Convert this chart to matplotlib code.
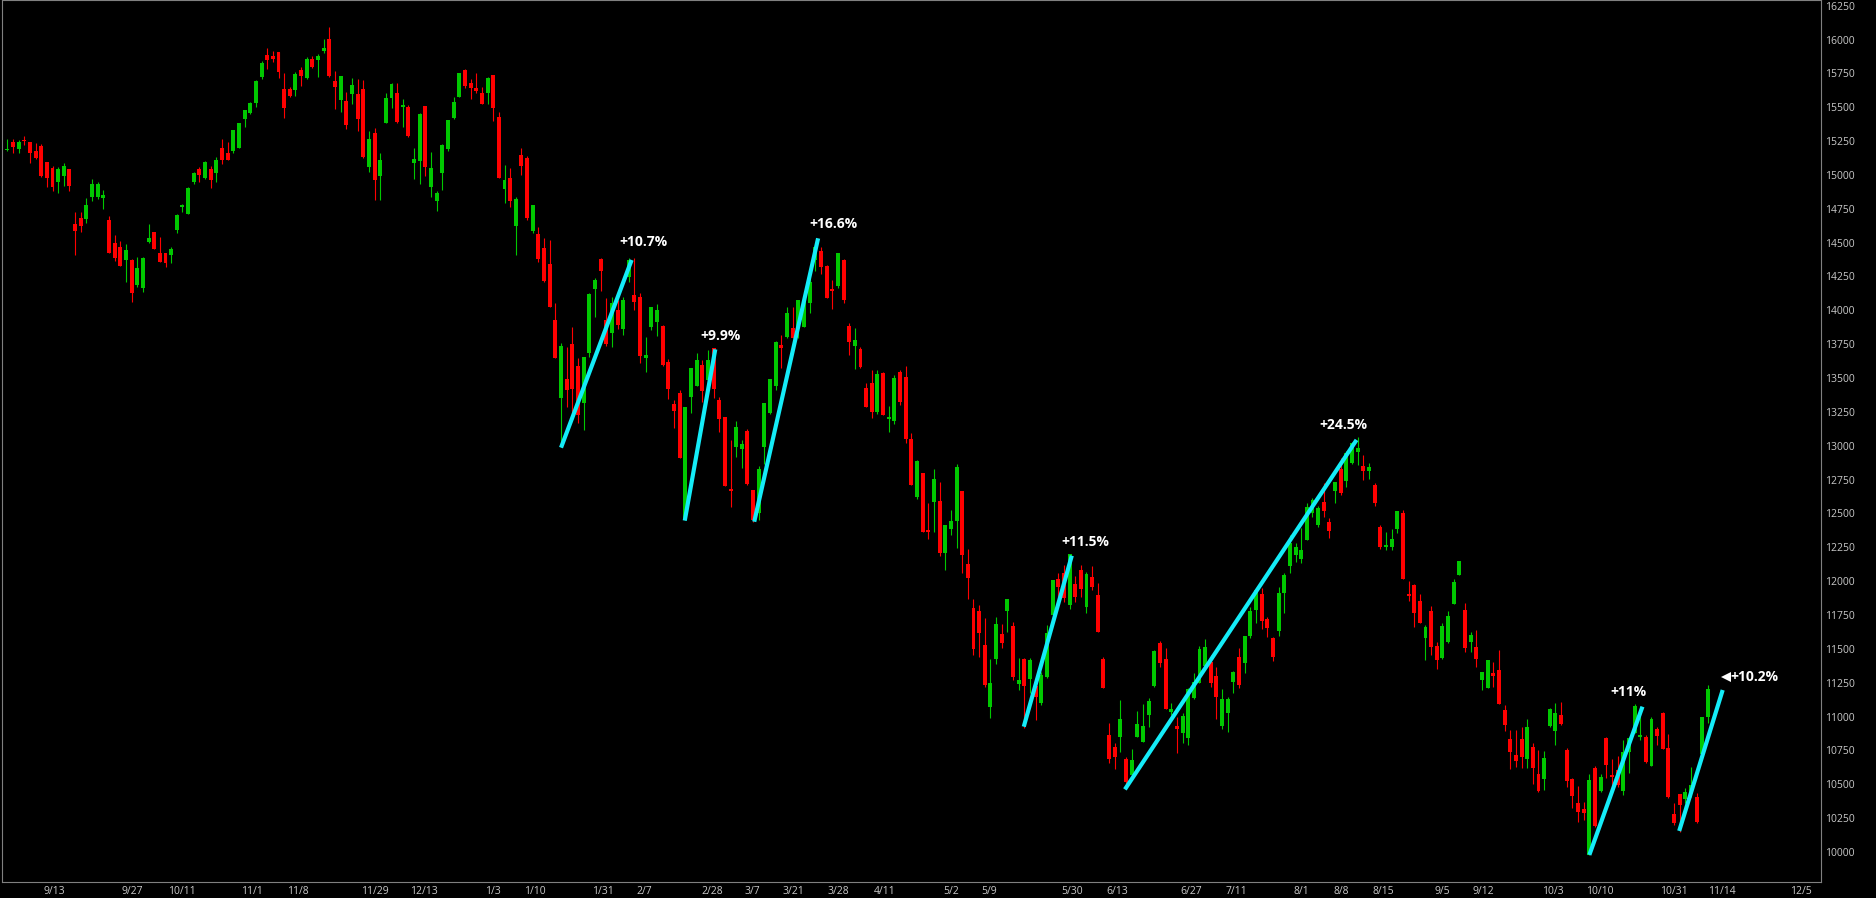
import matplotlib.pyplot as plt
from matplotlib.transforms import offset_copy
import numpy as np

# daily candles, Sep 2021 - Nov 2022 (index = trading day)
opens = [
    15185, 15244, 15192, 15258, 15244, 15177, 15214, 15099, 15054, 14951,
    14993, 15044, 14638, 14685, 14678, 14838, 14838, 14833, 14668, 14498,
    14469, 14375, 14373, 14188, 14168, 14508, 14579, 14422, 14422, 14409,
    14594, 14764, 14712, 14951, 15042, 14975, 15042, 15017, 15197, 15165,
    15177, 15199, 15413, 15457, 15533, 15723, 15886, 15878, 15908, 15634,
    15634, 15627, 15775, 15716, 15856, 15849, 15915, 16004, 15693, 15556,
    15546, 15600, 15598, 15634, 15058, 15307, 14994, 15383, 15568, 15605,
    15504, 15501, 15085, 15103, 15509, 14913, 14807, 15016, 15191, 15420,
    15578, 15775, 15682, 15645, 15608, 15608, 15738, 15426, 14896, 14977,
    14625, 15147, 15125, 14586, 14564, 14458, 14342, 13929, 13355, 13491,
    13749, 13589, 13313, 13687, 14155, 14377, 13929, 13835, 14003, 13860,
    14249, 14113, 14096, 13646, 13875, 13917, 13887, 13621, 13308, 13392,
    12452, 13362, 13441, 13596, 13486, 13719, 13338, 13210, 12678, 12993,
    12973, 13109, 12673, 12501, 12993, 13239, 13444, 13744, 13806, 13867,
    13880, 13880, 14052, 14372, 14441, 14328, 14155, 14180, 14372, 13884,
    13739, 13715, 13429, 13466, 13252, 13535, 13195, 13185, 13547, 13510,
    13050, 12624, 12801, 12378, 12587, 12592, 12210, 12388, 12447, 12666,
    12127, 11804, 11780, 11528, 11073, 11425, 11610, 11782, 11669, 11240,
    11423, 11275, 11226, 11103, 11290, 11750, 12014, 12058, 11824, 11979,
    12082, 11807, 12033, 11897, 11425, 10864, 10772, 10846, 10684, 10568,
    10851, 10814, 11011, 11225, 11540, 11425, 11036, 10930, 10881, 10839,
    11134, 11245, 11373, 11405, 11299, 10930, 11029, 11257, 11437, 11393,
    11595, 11787, 11905, 11718, 11577, 11634, 11915, 12112, 12195, 12161,
    12304, 12501, 12415, 12587, 12437, 12666, 12826, 12742, 12875, 12954,
    12851, 12816, 12710, 12398, 12255, 12250, 12383, 12506, 11900, 11972,
    11853, 11583, 11780, 11521, 11435, 11553, 11831, 12046, 11787, 11553,
    11511, 11270, 11213, 11319, 11344, 11048, 10834, 10716, 10834, 10687,
    10773, 10576, 10537, 10930, 10896, 11012, 10753, 10539, 10364, 10315,
    9978, 10618, 10451, 10839, 10569, 10605, 10451, 10741, 10876, 10852,
    10852, 10635, 10908, 11029, 10766, 10281, 10428, 10391, 10446, 10404,
    10724, 10994,
]
highs = [
    15263, 15263, 15258, 15288, 15244, 15234, 15227, 15099, 15067, 15057,
    15086, 15044, 14725, 14725, 14828, 14970, 14946, 14889, 14697, 14555,
    14513, 14489, 14380, 14395, 14395, 14636, 14579, 14545, 14427, 14471,
    14712, 14783, 14909, 15025, 15062, 15103, 15069, 15136, 15263, 15246,
    15332, 15383, 15479, 15536, 15698, 15844, 15935, 15918, 15910, 15750,
    15649, 15762, 15799, 15868, 15878, 15890, 16004, 16090, 15770, 15730,
    15610, 15713, 15706, 15698, 15322, 15349, 15159, 15603, 15676, 15676,
    15558, 15514, 15199, 15455, 15509, 15169, 14883, 15226, 15405, 15578,
    15755, 15780, 15706, 15751, 15647, 15726, 15738, 15467, 15076, 15049,
    14840, 15197, 15140, 14778, 14618, 14537, 14520, 14052, 13756, 13732,
    13879, 13646, 13658, 14126, 14236, 14384, 14089, 14101, 14077, 14101,
    14384, 14384, 14126, 13801, 14027, 14044, 13892, 13638, 13338, 13412,
    13284, 13572, 13687, 13633, 13707, 13719, 13362, 13215, 13042, 13183,
    13042, 13121, 12673, 12850, 13318, 13490, 13776, 13818, 14022, 14027,
    14076, 14076, 14236, 14470, 14470, 14335, 14224, 14421, 14377, 13909,
    13867, 13732, 13466, 13559, 13560, 13547, 13294, 13523, 13560, 13589,
    13092, 12895, 12801, 12580, 12826, 12735, 12415, 12526, 12865, 12666,
    12235, 11866, 11824, 11725, 11423, 11733, 11683, 11866, 11701, 11430,
    11430, 11430, 11245, 11332, 11676, 12009, 12063, 12119, 12200, 12038,
    12119, 12070, 12114, 11989, 11442, 10950, 10807, 11122, 10703, 10758,
    11041, 11092, 11134, 11491, 11560, 11508, 11102, 10999, 11024, 11208,
    11319, 11521, 11570, 11454, 11363, 11201, 11147, 11339, 11504, 11595,
    11807, 11947, 11947, 11733, 11590, 11959, 12058, 12341, 12279, 12390,
    12575, 12612, 12555, 12727, 12464, 12735, 12907, 12964, 13030, 13062,
    12932, 12875, 12727, 12415, 12366, 12383, 12518, 12526, 12004, 11979,
    11905, 11676, 11819, 11553, 11693, 11780, 12013, 12149, 11836, 11622,
    11639, 11331, 11418, 11405, 11492, 11085, 10901, 10901, 10921, 10980,
    10802, 10753, 10748, 11061, 11103, 11110, 10765, 10544, 10487, 10372,
    10576, 10635, 10576, 10847, 10684, 10709, 10827, 10852, 11093, 11061,
    10864, 10995, 10921, 11037, 10872, 10364, 10428, 10470, 10630, 10438,
    10994, 11233,
]
lows = [
    15180, 15165, 15165, 15224, 15086, 15121, 14988, 14909, 14885, 14865,
    14921, 14880, 14407, 14577, 14648, 14811, 14823, 14747, 14422, 14368,
    14324, 14206, 14060, 14176, 14139, 14496, 14454, 14360, 14321, 14353,
    14574, 14729, 14712, 14931, 14951, 14970, 14902, 14951, 15079, 15111,
    15165, 15199, 15351, 15447, 15499, 15706, 15780, 15836, 15713, 15423,
    15573, 15585, 15659, 15706, 15787, 15726, 15898, 15726, 15484, 15467,
    15337, 15521, 15327, 15127, 15024, 14812, 14812, 15383, 15497, 15386,
    15356, 15282, 14970, 14935, 14994, 14839, 14736, 14891, 15179, 15410,
    15578, 15640, 15559, 15603, 15524, 15522, 15398, 14975, 14795, 14763,
    14409, 15000, 14667, 14569, 14360, 14212, 14027, 13646, 12993, 13289,
    13240, 13166, 13116, 13658, 13948, 14145, 13737, 13727, 13860, 13818,
    14212, 14003, 13609, 13547, 13855, 13811, 13589, 13343, 13129, 12907,
    12452, 13239, 13441, 13326, 13449, 13350, 13104, 12703, 12550, 12919,
    12833, 12710, 12439, 12452, 12865, 13234, 13412, 13572, 13793, 13793,
    13793, 13880, 13978, 14293, 14268, 14094, 14008, 14163, 14052, 13670,
    13564, 13572, 13289, 13202, 13232, 13227, 13099, 13158, 13301, 13018,
    12710, 12604, 12366, 12309, 12366, 12188, 12082, 12341, 12242, 12058,
    11866, 11455, 11442, 11221, 10987, 11388, 11504, 11627, 11270, 11196,
    10913, 11172, 10975, 11085, 11282, 11743, 11885, 11848, 11792, 11848,
    11885, 11767, 11934, 11627, 11208, 10654, 10610, 10740, 10502, 10531,
    10851, 10814, 10925, 11220, 11368, 11053, 11011, 10728, 10802, 10790,
    11127, 11245, 11373, 11220, 10985, 10905, 10888, 11171, 11208, 11324,
    11577, 11688, 11644, 11590, 11413, 11595, 11767, 12058, 12144, 12136,
    12304, 12471, 12402, 12476, 12316, 12575, 12636, 12698, 12865, 12858,
    12747, 12752, 12555, 12235, 12230, 12230, 12353, 12016, 11856, 11664,
    11688, 11418, 11455, 11349, 11423, 11541, 11831, 12046, 11479, 11479,
    11368, 11196, 11213, 11221, 11093, 10893, 10610, 10630, 10618, 10618,
    10500, 10446, 10458, 10925, 10790, 10938, 10482, 10322, 10224, 10236,
    9978, 10187, 10446, 10544, 10433, 10482, 10421, 10586, 10876, 10827,
    10655, 10635, 10790, 10758, 10396, 10199, 10150, 10359, 10409, 10216,
    10704, 10950,
]
closes = [
    15192, 15207, 15244, 15251, 15165, 15128, 14995, 14980, 14914, 15044,
    15067, 14921, 14589, 14626, 14779, 14934, 14934, 14852, 14427, 14390,
    14324, 14447, 14131, 14311, 14387, 14535, 14454, 14360, 14348, 14451,
    14702, 14778, 14902, 15012, 15000, 15094, 14963, 15111, 15111, 15111,
    15332, 15383, 15479, 15531, 15693, 15826, 15849, 15856, 15763, 15497,
    15583, 15745, 15733, 15856, 15799, 15878, 15937, 15733, 15649, 15730,
    15369, 15664, 15413, 15132, 15265, 14965, 15110, 15568, 15671, 15391,
    15516, 15287, 15117, 15450, 15058, 15051, 14866, 15221, 15405, 15538,
    15751, 15659, 15645, 15620, 15527, 15716, 15497, 14980, 14963, 14810,
    14820, 15066, 14685, 14778, 14379, 14219, 14027, 13646, 13737, 13412,
    13417, 13227, 13653, 14121, 14224, 14293, 13751, 14052, 13892, 14076,
    14372, 14064, 13665, 13670, 14022, 14003, 13594, 13419, 13259, 12907,
    13284, 13572, 13633, 13407, 13633, 13417, 13195, 12703, 12668, 13136,
    13013, 12717, 12452, 12826, 13318, 13490, 13769, 13719, 13983, 13798,
    14076, 14072, 14212, 14470, 14323, 14094, 14145, 14421, 14076, 13769,
    13781, 13584, 13289, 13247, 13528, 13227, 13215, 13503, 13326, 13050,
    12710, 12887, 12366, 12366, 12752, 12210, 12415, 12444, 12846, 12193,
    12021, 11496, 11615, 11233, 11250, 11683, 11541, 11866, 11295, 11270,
    11226, 11418, 11147, 11307, 11615, 12009, 11959, 11873, 12200, 11885,
    11940, 12053, 11959, 11627, 11213, 10684, 10703, 10979, 10519, 10679,
    10945, 10930, 11115, 11486, 11393, 11058, 11056, 10905, 11004, 11201,
    11257, 11496, 11511, 11250, 11142, 11127, 11127, 11326, 11233, 11595,
    11782, 11934, 11708, 11656, 11437, 11915, 12045, 12284, 12255, 12230,
    12545, 12600, 12538, 12521, 12373, 12735, 12654, 12944, 13023, 12986,
    12816, 12843, 12580, 12255, 12260, 12309, 12518, 12016, 11893, 11762,
    11693, 11664, 11511, 11418, 11669, 11743, 11994, 12149, 11504, 11602,
    11425, 11327, 11418, 11300, 11093, 10938, 10741, 10672, 10704, 10926,
    10618, 10453, 10694, 11054, 11024, 10945, 10527, 10416, 10298, 10290,
    10532, 10192, 10556, 10642, 10556, 10495, 10741, 10839, 11078, 10860,
    10667, 10980, 10857, 10761, 10404, 10212, 10347, 10441, 10495, 10219,
    10994, 11204,
]

x_labels = ['9/13', '9/27', '10/11', '11/1', '11/8', '11/29', '12/13', '1/3', '1/10',
            '1/31', '2/7', '2/28', '3/7', '3/21', '3/28', '4/11', '5/2', '5/9', '5/30',
            '6/13', '6/27', '7/11', '8/1', '8/8', '8/15', '9/5', '9/12', '10/3', '10/10',
            '10/31', '11/14', '12/5']

# rally lines: start/end (bar index, price) and their labels
rally_x0 = [98, 119.9, 132.2, 179.9, 197.8, 280, 295.9]
rally_y0 = [12986, 12447, 12439, 10925, 10462, 9978, 10155]
rally_x1 = [110.5, 125.3, 143.5, 188.4, 238.8, 289.4, 303.6]
rally_y1 = [14372, 13712, 14532, 12188, 13043, 11073, 11196]
rally_labels = ['+10.7%', '+9.9%', '+16.6%', '+11.5%', '+24.5%', '+11%', '+10.2%']

# layout
W, H = 1876, 898
x_tick_pos = [8.4, 22.2, 30.9, 43.3, 51.4, 65.1, 73.7, 86.0, 93.4, 105.4, 112.7, 124.7,
              131.8, 139.2, 147.0, 155.3, 167.0, 173.7, 188.4, 196.4, 209.5, 217.5, 229.0,
              236.1, 243.5, 253.9, 261.3, 273.6, 281.9, 295.0, 303.5, 317.5]
label_off = [(12, 18), (5, 13), (15, 14), (14, 14), (-13, 15), (-14, 15), (32, 13)]

up_col = '#00c800'
dn_col = '#ff0000'
line_col = '#14ecf8'
txt_col = '#c8c8c8'

o = np.array(opens, dtype=float)
h = np.array(highs, dtype=float)
l = np.array(lows, dtype=float)
c = np.array(closes, dtype=float)
idx = np.arange(len(o))
cols = np.where(c >= o, up_col, dn_col)

fig = plt.figure(figsize=(W / 100, H / 100), dpi=100, facecolor='black')
ax = fig.add_axes([2 / W, 16 / H, (1821 - 2) / W, 882 / H], facecolor='black')

ax.vlines(idx, l, h, colors=cols, linewidth=0.8)
body_lo = np.minimum(o, c)
body_h = np.maximum(np.abs(c - o), 9)
ax.bar(idx, body_h, bottom=body_lo, width=0.7, color=cols, linewidth=0)

for i in range(len(rally_x0)):
    ax.plot([rally_x0[i], rally_x1[i]], [rally_y0[i], rally_y1[i]],
            color=line_col, linewidth=3, solid_capstyle='butt', zorder=5)
    dx, dy = label_off[i]
    tr = offset_copy(ax.transData, fig=fig, x=dx, y=dy, units='dots')
    ax.text(rally_x1[i], rally_y1[i], rally_labels[i], transform=tr, color='white',
            fontsize=10, fontweight='bold', family='Open Sans',
            ha='center', va='center', zorder=6)

# small pointer in front of the last label
tr = offset_copy(ax.transData, fig=fig, x=3, y=13, units='dots')
ax.plot([rally_x1[-1]], [rally_y1[-1]], marker='<', markersize=7, color='white',
        markeredgewidth=0, transform=tr, zorder=6)

ax.set_xlim(-0.94, 321)
ax.set_ylim(9778, 16292)

ax.set_xticks(x_tick_pos)
ax.set_xticklabels(x_labels)
ax.set_yticks(np.arange(10000, 16251, 250))
ax.yaxis.tick_right()
ax.tick_params(axis='both', length=0, colors=txt_col, labelsize=7.5)
ax.tick_params(axis='y', pad=3)
ax.tick_params(axis='x', pad=3)
for lab in ax.get_xticklabels() + ax.get_yticklabels():
    lab.set_family('Open Sans')

for s in ax.spines.values():
    s.set_color('#808080')
    s.set_linewidth(0.8)

fig.savefig('out.png', dpi=100, facecolor='black')
